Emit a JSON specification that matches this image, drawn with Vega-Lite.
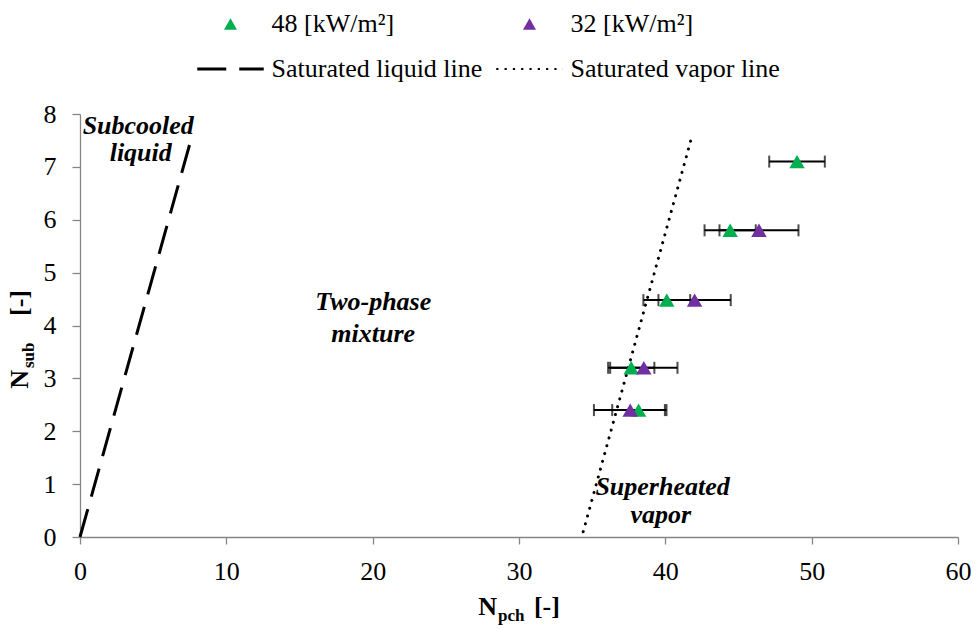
{
  "$schema": "https://vega.github.io/schema/vega-lite/v6.json",
  "autosize": {"type": "none"},
  "width": 878,
  "height": 423,
  "padding": {"left": 80, "top": 114, "right": 19, "bottom": 92},
  "background": "white",
  "config": {
    "view": {"stroke": null},
    "font": "Liberation Serif"
  },
  "datasets": {
    "points": [
      {"series": "48 [kW/m²]", "x": 49.0, "y": 7.1, "err": 1.9},
      {"series": "48 [kW/m²]", "x": 44.43, "y": 5.8, "err": 1.75},
      {"series": "48 [kW/m²]", "x": 40.1, "y": 4.48, "err": 1.6},
      {"series": "48 [kW/m²]", "x": 37.67, "y": 3.2, "err": 1.58},
      {"series": "48 [kW/m²]", "x": 38.17, "y": 2.4, "err": 1.8},
      {"series": "32 [kW/m²]", "x": 46.4, "y": 5.8, "err": 2.7},
      {"series": "32 [kW/m²]", "x": 42.0, "y": 4.48, "err": 2.47},
      {"series": "32 [kW/m²]", "x": 38.53, "y": 3.2, "err": 2.3},
      {"series": "32 [kW/m²]", "x": 37.6, "y": 2.4, "err": 2.48}
    ],
    "lines": [
      {"series": "Saturated liquid line", "x": 0, "y": 0},
      {"series": "Saturated liquid line", "x": 7.52, "y": 7.45},
      {"series": "Saturated vapor line", "x": 34.39, "y": 0.1},
      {"series": "Saturated vapor line", "x": 41.73, "y": 7.49}
    ],
    "notes": [
      {"group": "region", "text": "Subcooled", "x": 3.98, "y": 7.62},
      {"group": "region", "text": "liquid", "x": 4.15, "y": 7.11},
      {"group": "region", "text": "Two-phase", "x": 20.04, "y": 4.29},
      {"group": "region", "text": "mixture", "x": 20.04, "y": 3.69},
      {"group": "region", "text": "Superheated", "x": 39.81, "y": 0.79},
      {"group": "region", "text": "vapor", "x": 39.69, "y": 0.26},
      {"group": "xMain", "text": "N", "x": 28.5, "y": -1.475},
      {"group": "xSub", "text": "pch", "x": 28.56, "y": -1.589},
      {"group": "xRest", "text": "[-]", "x": 31.02, "y": -1.475},
      {"group": "yMain", "text": "N", "x": -3.554, "y": 3.158},
      {"group": "ySub", "text": "sub", "x": -3.143, "y": 3.196},
      {"group": "yRest", "text": "[-]", "x": -3.554, "y": 4.18}
    ]
  },
  "encoding": {
    "x": {"field": "x", "type": "quantitative", "scale": {"domain": [0, 60], "nice": false},
          "axis": {"values": [0, 10, 20, 30, 40, 50, 60], "title": null, "grid": false, "labelFlush": false,
                   "labelPadding": 14, "labelFont": "Liberation Serif", "labelFontSize": 26, "labelColor": "black",
                   "domainColor": "#868686", "domainWidth": 1.3, "tickColor": "#868686", "tickWidth": 1.3, "tickSize": 7}},
    "y": {"field": "y", "type": "quantitative", "scale": {"domain": [0, 8], "nice": false},
          "axis": {"values": [0, 1, 2, 3, 4, 5, 6, 7, 8], "title": null, "grid": false, "labelFlush": false,
                   "labelPadding": 16, "labelFont": "Liberation Serif", "labelFontSize": 26, "labelColor": "black",
                   "domainColor": "#868686", "domainWidth": 1.3, "tickColor": "#868686", "tickWidth": 1.3, "tickSize": 8}}
  },
  "layer": [
    {
      "data": {"name": "lines"},
      "transform": [{"filter": "datum.series == 'Saturated liquid line'"}],
      "mark": {"type": "line", "strokeWidth": 3, "strokeDash": [29, 13], "strokeCap": "butt"},
      "encoding": {
        "color": {"field": "series", "type": "nominal",
          "scale": {"domain": ["48 [kW/m²]", "32 [kW/m²]", "Saturated liquid line", "Saturated vapor line"],
                    "range": ["#00B050", "#7030A0", "black", "black"]},
          "legend": {
            "orient": "none", "legendX": 117.5, "legendY": -103, "columns": 2, "direction": "horizontal",
            "title": null, "labelFont": "Liberation Serif", "labelFontSize": 26, "labelColor": "black",
            "labelOffset": 28, "columnPadding": 9, "rowPadding": 19, "symbolSize": 170, "symbolOffset": 20,
            "symbolStrokeWidth": 3, "labelLimit": 400,
            "encoding": {"symbols": {
              "shape": {"value": {"expr": "datum.index < 2 ? 'triangle-up' : 'M-5.1,0L5.1,0'"}},
              "fill": {"value": {"expr": "datum.index == 0 ? '#00B050' : datum.index == 1 ? '#7030A0' : 'transparent'"}},
              "stroke": {"value": {"expr": "datum.index < 2 ? 'transparent' : 'black'"}},
              "strokeWidth": {"value": {"expr": "datum.index == 2 ? 3 : datum.index == 3 ? 2.2 : 0"}},
              "strokeDash": {"value": {"expr": "datum.index == 2 ? [29, 13] : datum.index == 3 ? [2.2, 6.1] : [1, 0]"}},
              "opacity": {"value": 1},
              "fillOpacity": {"value": 1},
              "strokeOpacity": {"value": 1}
            }}
          }}
      }
    },
    {
      "data": {"name": "lines"},
      "transform": [{"filter": "datum.series == 'Saturated vapor line'"}],
      "mark": {"type": "line", "strokeWidth": 3, "strokeDash": [0.1, 8], "strokeCap": "round"},
      "encoding": {"color": {"field": "series", "type": "nominal"}}
    },
    {
      "data": {"name": "points"},
      "mark": {"type": "errorbar", "color": "black", "ticks": {"size": 12, "thickness": 2, "color": "black"}, "rule": {"strokeWidth": 2}},
      "encoding": {
        "x": {"field": "x", "type": "quantitative"},
        "xError": {"field": "err"},
        "y": {"field": "y", "type": "quantitative"}
      }
    },
    {
      "data": {"name": "points"},
      "mark": {"type": "point", "shape": "triangle-up", "filled": true, "size": 240, "opacity": 1},
      "encoding": {"color": {"field": "series", "type": "nominal"}}
    },
    {
      "data": {"name": "notes"},
      "transform": [{"filter": "datum.group == 'region'"}],
      "mark": {"type": "text", "align": "center", "baseline": "alphabetic", "font": "Liberation Serif", "fontSize": 26, "fontWeight": "bold", "fontStyle": "italic", "color": "black"},
      "encoding": {"text": {"field": "text"}}
    },
    {
      "data": {"name": "notes"},
      "transform": [{"filter": "datum.group == 'xMain'"}],
      "mark": {"type": "text", "align": "right", "baseline": "alphabetic", "font": "Liberation Serif", "fontSize": 26, "fontWeight": "bold", "color": "black"},
      "encoding": {"text": {"field": "text"}}
    },
    {
      "data": {"name": "notes"},
      "transform": [{"filter": "datum.group == 'xRest'"}],
      "mark": {"type": "text", "align": "left", "baseline": "alphabetic", "font": "Liberation Serif", "fontSize": 26, "fontWeight": "bold", "color": "black"},
      "encoding": {"text": {"field": "text"}}
    },
    {
      "data": {"name": "notes"},
      "transform": [{"filter": "datum.group == 'xSub'"}],
      "mark": {"type": "text", "align": "left", "baseline": "alphabetic", "font": "Liberation Serif", "fontSize": 17, "fontWeight": "bold", "color": "black"},
      "encoding": {"text": {"field": "text"}}
    },
    {
      "data": {"name": "notes"},
      "transform": [{"filter": "datum.group == 'yMain'"}],
      "mark": {"type": "text", "align": "right", "baseline": "alphabetic", "angle": 270, "font": "Liberation Serif", "fontSize": 26, "fontWeight": "bold", "color": "black"},
      "encoding": {"text": {"field": "text"}}
    },
    {
      "data": {"name": "notes"},
      "transform": [{"filter": "datum.group == 'yRest'"}],
      "mark": {"type": "text", "align": "left", "baseline": "alphabetic", "angle": 270, "font": "Liberation Serif", "fontSize": 26, "fontWeight": "bold", "color": "black"},
      "encoding": {"text": {"field": "text"}}
    },
    {
      "data": {"name": "notes"},
      "transform": [{"filter": "datum.group == 'ySub'"}],
      "mark": {"type": "text", "align": "left", "baseline": "alphabetic", "angle": 270, "font": "Liberation Serif", "fontSize": 17, "fontWeight": "bold", "color": "black"},
      "encoding": {"text": {"field": "text"}}
    }
  ]
}
